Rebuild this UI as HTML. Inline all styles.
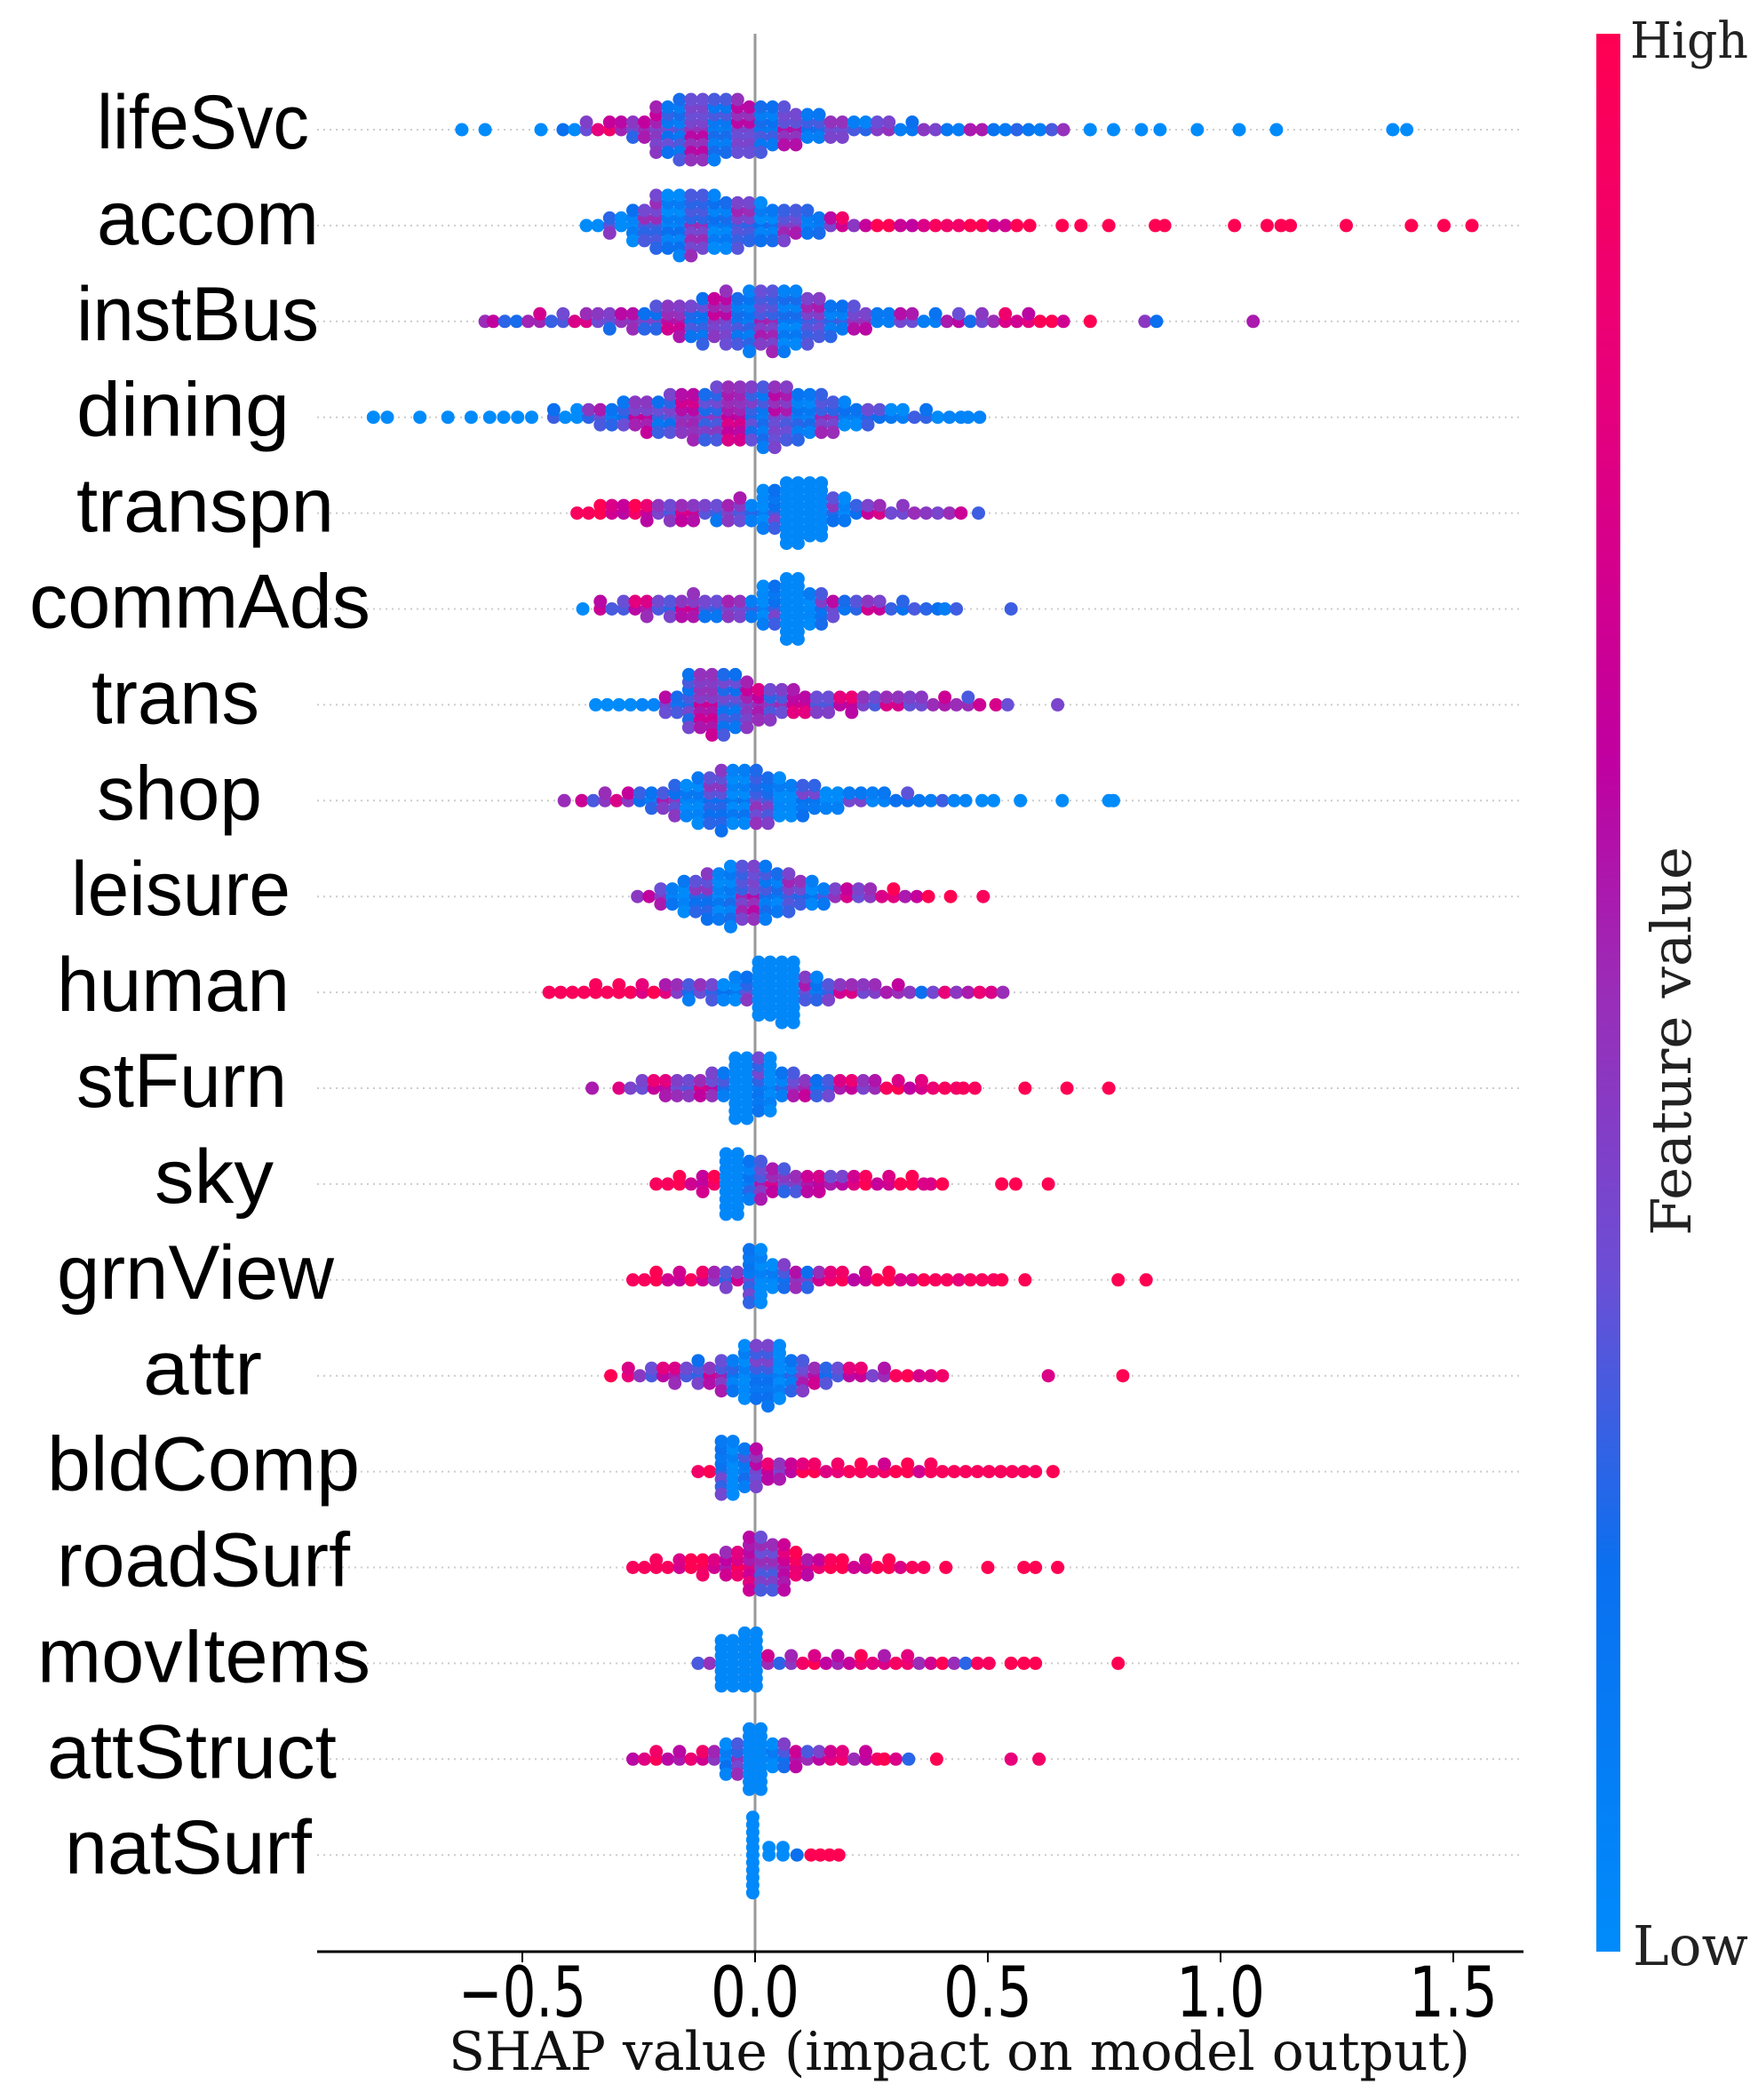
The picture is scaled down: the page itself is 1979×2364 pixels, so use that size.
<!DOCTYPE html>
<html><head><meta charset="utf-8"><style>
html,body{margin:0;padding:0;background:#fff;}
svg{display:block;}
</style></head><body>
<svg id="chart" xmlns="http://www.w3.org/2000/svg" width="1979" height="2364" viewBox="0 0 1979 2364">
<defs>
<linearGradient id="cbar" x1="0" y1="1" x2="0" y2="0">
<stop offset="0" stop-color="#008bfb"/>
<stop offset="0.2" stop-color="#0a70ef"/>
<stop offset="0.35" stop-color="#6a4fd6"/>
<stop offset="0.5" stop-color="#9a2db8"/>
<stop offset="0.62" stop-color="#c000a0"/>
<stop offset="0.82" stop-color="#e8007a"/>
<stop offset="1" stop-color="#ff0052"/>
</linearGradient>
</defs>
<g id="grid"></g>
<line x1="850" y1="38" x2="850" y2="2197" stroke="#999" stroke-width="3"/>
<g id="dots"></g>
<g id="labels"></g>
<g id="xaxis"></g>
<text x="505" y="2330" font-family="'DejaVu Serif','Liberation Serif',serif" font-size="60" textLength="1150" lengthAdjust="spacingAndGlyphs" fill="#111">SHAP value (impact on model output)</text>
<rect x="1797" y="38" width="27" height="2159" fill="url(#cbar)"/>
<text x="1835" y="65" font-family="'DejaVu Serif','Liberation Serif',serif" font-size="56" textLength="133" lengthAdjust="spacingAndGlyphs" fill="#222">High</text>
<text x="1838" y="2212" font-family="'DejaVu Serif','Liberation Serif',serif" font-size="62" textLength="130" lengthAdjust="spacingAndGlyphs" fill="#222">Low</text>
<text transform="translate(1903,1172) rotate(-90)" text-anchor="middle" font-family="'DejaVu Serif','Liberation Serif',serif" font-size="62" textLength="438" lengthAdjust="spacingAndGlyphs" fill="#222">Feature value</text>
</svg>
<script>
const features = ["lifeSvc","accom","instBus","dining","transpn","commAds","trans","shop","leisure","human","stFurn","sky","grnView","attr","bldComp","roadSurf","movItems","attStruct","natSurf"];
const tickValues = [-0.5, 0.0, 0.5, 1.0, 1.5];
const tickLabels = ["\u22120.5","0.0","0.5","1.0","1.5"];

const lifeSvcShap=[-0.63,-0.58,-0.46,-0.40,-0.35,-0.30,-0.25,-0.20,-0.15,-0.10,-0.05,0.00,0.05,0.10,0.15,0.20,0.25,0.30,0.35,0.40,0.45,0.50,0.55,0.60,0.65,0.72,0.77,0.83,0.87,0.95,1.04,1.12,1.37,1.40];
const lifeSvcCount=[1,1,1,2,3,4,6,14,18,18,16,14,12,9,7,5,4,3,3,2,2,2,2,2,2,1,1,1,1,1,1,1,1,1];
const lifeSvcFeat=[0,0,0,0.1,0.5,0.6,0.45,0.35,0.3,0.3,0.3,0.3,0.28,0.28,0.3,0.3,0.25,0.3,0.35,0.3,0.25,0.25,0.2,0.1,0.3,0,0,0,0,0,0,0,0,0];

const accomShap=[-0.35,-0.30,-0.25,-0.20,-0.15,-0.10,-0.05,0.00,0.05,0.10,0.15,0.20,0.25,0.30,0.35,0.40,0.45,0.50,0.55,0.59,0.66,0.70,0.76,0.86,0.88,1.03,1.10,1.13,1.15,1.27,1.41,1.48,1.54];
const accomCount=[2,5,10,16,18,16,14,12,10,8,5,3,2,2,2,2,2,2,2,1,1,1,1,1,1,1,1,1,1,1,1,1,1];
const accomFeat=[0,0.15,0.2,0.2,0.2,0.2,0.22,0.2,0.22,0.25,0.3,0.6,0.8,0.75,0.7,0.9,0.9,0.9,0.9,1,1,1,1,1,1,1,1,1,1,1,1,1,1];

const instBusShap=[-0.58,-0.55,-0.50,-0.45,-0.40,-0.35,-0.30,-0.25,-0.20,-0.15,-0.10,-0.05,0.00,0.05,0.10,0.15,0.20,0.25,0.30,0.35,0.40,0.45,0.50,0.55,0.60,0.65,0.72,0.85,1.07];
const instBusCount=[1,2,2,3,3,4,5,6,8,10,13,15,17,18,15,11,8,5,4,3,3,3,3,3,3,2,1,2,1];
const instBusFeat=[0.5,0.45,0.42,0.42,0.45,0.45,0.42,0.4,0.4,0.38,0.35,0.3,0.25,0.22,0.22,0.25,0.28,0.3,0.28,0.25,0.25,0.3,0.45,0.7,0.8,0.9,1,0.35,0.7];

const diningShap=[-0.82,-0.79,-0.72,-0.66,-0.61,-0.57,-0.54,-0.51,-0.48,-0.42,-0.37,-0.32,-0.27,-0.22,-0.17,-0.12,-0.07,-0.02,0.03,0.08,0.13,0.18,0.23,0.28,0.33,0.38,0.43,0.47];
const diningCount=[1,1,1,1,1,1,1,1,1,3,4,6,8,10,12,14,16,16,18,15,12,9,6,4,3,3,2,2];
const diningFeat=[0,0,0,0,0,0,0,0,0,0.1,0.15,0.25,0.35,0.35,0.4,0.42,0.45,0.42,0.3,0.25,0.22,0.2,0.18,0.15,0.1,0.08,0.05,0.05];

const transpnShap=[-0.37,-0.32,-0.27,-0.22,-0.17,-0.12,-0.07,-0.02,0.03,0.08,0.13,0.18,0.23,0.28,0.33,0.38,0.43,0.48];
const transpnCount=[2,4,4,5,6,5,6,7,12,18,16,8,4,3,3,2,2,1];
const transpnFeat=[0.95,0.9,0.8,0.55,0.45,0.4,0.35,0.25,0.1,0.03,0.03,0.15,0.35,0.45,0.45,0.4,0.5,0.1];

const commAdsShap=[-0.37,-0.32,-0.27,-0.22,-0.17,-0.12,-0.07,-0.02,0.03,0.08,0.13,0.18,0.23,0.28,0.33,0.38,0.42,0.55];
const commAdsCount=[1,3,4,5,6,7,6,6,12,18,10,5,4,3,3,2,2,1];
const commAdsFeat=[0,0.5,0.5,0.45,0.4,0.38,0.35,0.3,0.1,0.03,0.12,0.3,0.4,0.35,0.25,0.2,0.1,0.1];

const transShap=[-0.33,-0.28,-0.23,-0.18,-0.13,-0.08,-0.03,0.02,0.07,0.12,0.17,0.22,0.27,0.32,0.37,0.42,0.47,0.53,0.65];
const transCount=[2,2,2,6,16,18,15,10,8,6,5,5,4,4,3,3,3,2,1];
const transFeat=[0,0,0.05,0.3,0.38,0.38,0.35,0.45,0.5,0.5,0.5,0.55,0.45,0.42,0.45,0.5,0.5,0.55,0.6];

const shopShap=[-0.41,-0.36,-0.31,-0.26,-0.21,-0.16,-0.11,-0.06,-0.01,0.04,0.09,0.14,0.19,0.24,0.29,0.34,0.39,0.44,0.50,0.57,0.66,0.76,0.77];
const shopCount=[1,2,3,4,6,10,14,17,16,13,10,7,5,4,3,3,2,2,2,1,1,1,1];
const shopFeat=[0.5,0.5,0.65,0.35,0.25,0.15,0.15,0.15,0.18,0.12,0.1,0.08,0.08,0.1,0.15,0.15,0.1,0.05,0,0,0,0,0];

const leisureShap=[-0.24,-0.19,-0.14,-0.09,-0.04,0.01,0.06,0.11,0.16,0.21,0.26,0.31,0.36,0.42,0.49];
const leisureCount=[2,6,10,14,17,16,12,8,5,4,3,3,2,1,1];
const leisureFeat=[0.45,0.25,0.15,0.15,0.22,0.3,0.22,0.18,0.3,0.55,0.65,0.7,0.8,0.9,0.95];

const humanShap=[-0.43,-0.38,-0.33,-0.28,-0.23,-0.18,-0.13,-0.08,-0.03,0.02,0.07,0.12,0.17,0.22,0.27,0.32,0.37,0.42,0.47,0.52];
const humanCount=[2,2,3,3,3,4,5,6,8,16,18,8,5,4,3,3,2,2,2,2];
const humanFeat=[0.95,0.95,0.95,0.95,0.9,0.5,0.3,0.2,0.15,0.03,0.03,0.25,0.4,0.45,0.5,0.45,0.2,0.65,0.75,0.65];

const stFurnShap=[-0.35,-0.28,-0.23,-0.18,-0.13,-0.08,-0.03,0.02,0.07,0.12,0.17,0.22,0.27,0.32,0.37,0.42,0.46,0.58,0.67,0.76];
const stFurnCount=[1,2,4,6,6,8,18,16,8,6,5,4,3,3,3,2,2,1,1,1];
const stFurnFeat=[0.55,0.6,0.55,0.5,0.45,0.3,0.03,0.08,0.25,0.35,0.45,0.55,0.65,0.7,0.8,0.9,0.95,1,1,1];

const skyShap=[-0.20,-0.15,-0.10,-0.05,0.00,0.05,0.10,0.15,0.20,0.25,0.30,0.35,0.39,0.53,0.56,0.63];
const skyCount=[2,3,5,18,12,8,6,5,4,3,3,3,2,1,1,1];
const skyFeat=[0.95,0.9,0.8,0.03,0.25,0.45,0.5,0.55,0.6,0.85,0.9,0.9,0.9,1,1,1];

const grnViewShap=[-0.25,-0.20,-0.15,-0.10,-0.05,0.00,0.05,0.10,0.15,0.20,0.25,0.30,0.35,0.40,0.45,0.50,0.53,0.58,0.78,0.84];
const grnViewCount=[2,3,3,4,5,16,8,6,4,3,3,3,2,2,2,2,1,1,1,1];
const grnViewFeat=[0.95,0.9,0.85,0.6,0.4,0.08,0.12,0.4,0.7,0.8,0.9,0.9,0.9,0.95,0.9,0.95,1,1,1,1];

const attrShap=[-0.31,-0.26,-0.21,-0.16,-0.11,-0.06,-0.01,0.04,0.09,0.14,0.19,0.24,0.29,0.34,0.39,0.63,0.79];
const attrCount=[1,3,4,5,7,10,16,17,10,6,4,3,3,2,2,1,1];
const attrFeat=[1,0.65,0.5,0.45,0.4,0.25,0.1,0.1,0.25,0.4,0.5,0.55,0.65,0.8,0.85,0.7,1];

const bldCompShap=[-0.11,-0.06,-0.01,0.04,0.09,0.14,0.19,0.24,0.29,0.34,0.39,0.44,0.49,0.54,0.59,0.64];
const bldCompCount=[2,16,12,6,4,3,3,3,3,3,3,2,2,2,2,1];
const bldCompFeat=[0.9,0.08,0.3,0.55,0.75,0.85,0.9,0.9,0.9,0.9,0.95,0.95,0.95,0.95,0.95,1];

const roadSurfShap=[-0.25,-0.20,-0.15,-0.10,-0.05,0.00,0.05,0.10,0.15,0.20,0.25,0.30,0.35,0.41,0.50,0.59,0.65];
const roadSurfCount=[2,3,4,5,8,16,14,7,4,3,3,3,2,1,1,2,1];
const roadSurfFeat=[0.95,0.95,0.9,0.85,0.7,0.5,0.5,0.75,0.85,0.9,0.9,0.9,0.95,1,1,1,1];

const movItemsShap=[-0.11,-0.06,-0.01,0.04,0.09,0.14,0.19,0.24,0.29,0.34,0.39,0.44,0.49,0.55,0.59,0.78];
const movItemsCount=[2,14,16,3,3,3,3,3,3,3,2,2,2,1,2,1];
const movItemsFeat=[0.3,0.03,0.03,0.4,0.6,0.7,0.6,0.8,0.75,0.7,0.9,0.4,0.95,0.9,1,1];

const attStructShap=[-0.25,-0.20,-0.15,-0.10,-0.05,0.00,0.05,0.10,0.15,0.20,0.25,0.29,0.33,0.39,0.55,0.61];
const attStructCount=[2,3,3,4,10,18,8,5,4,3,3,2,1,1,1,1];
const attStructFeat=[0.6,0.8,0.75,0.6,0.2,0.03,0.12,0.5,0.6,0.7,0.8,0.9,0.4,0.7,0.9,0.85];

const natSurfShap=[-0.005,0.03,0.06,0.09,0.12,0.14,0.16,0.18];
const natSurfCount=[11,2,2,1,1,1,1,1];
const natSurfFeat=[0.02,0,0,0.1,1,1,1,1];

const shapSeries=[lifeSvcShap,accomShap,instBusShap,diningShap,transpnShap,commAdsShap,transShap,shopShap,leisureShap,humanShap,stFurnShap,skyShap,grnViewShap,attrShap,bldCompShap,roadSurfShap,movItemsShap,attStructShap,natSurfShap];
const countSeries=[lifeSvcCount,accomCount,instBusCount,diningCount,transpnCount,commAdsCount,transCount,shopCount,leisureCount,humanCount,stFurnCount,skyCount,grnViewCount,attrCount,bldCompCount,roadSurfCount,movItemsCount,attStructCount,natSurfCount];
const featSeries=[lifeSvcFeat,accomFeat,instBusFeat,diningFeat,transpnFeat,commAdsFeat,transFeat,shopFeat,leisureFeat,humanFeat,stFurnFeat,skyFeat,grnViewFeat,attrFeat,bldCompFeat,roadSurfFeat,movItemsFeat,attStructFeat,natSurfFeat];

// layout (styles, not data)
const labelX=[109,109,86,86,86,33,103,109,80,64,86,174,64,161,53,64,42,53,73];
const labelW=[239,250,273,240,290,384,189,186,247,262,237,134,312,134,352,330,375,326,278];
const subSpread=[6.5,6.5,6.5,6.5,6.5,6.5,6.5,6.5,6.5,6.5,6.5,6.5,6.5,6.5,6.5,6.5,6.5,6.5,0];

const NS="http://www.w3.org/2000/svg";
const X0=357, X1=1715, AXY=2197;
function xScale(v){return 850+524*v;}
function yScale(i){return 146+i*107.9;}
const stops=[[0,[0,139,251]],[0.2,[10,112,239]],[0.35,[106,79,214]],[0.5,[154,45,184]],[0.62,[192,0,160]],[0.82,[232,0,122]],[1,[255,0,82]]];
function cmap(t){t=Math.max(0,Math.min(1,t));for(let i=1;i<stops.length;i++){if(t<=stops[i][0]){const a=stops[i-1],b=stops[i];const f=(t-a[0])/(b[0]-a[0]);const c=a[1].map((v,k)=>Math.round(v+(b[1][k]-v)*f));return `rgb(${c[0]},${c[1]},${c[2]})`;}}return "rgb(255,0,82)";}
const jitter=[0,0.18,-0.2,0.1,-0.15,0.3,-0.08,0.05];

const grid=document.getElementById('grid');
const dots=document.getElementById('dots');
const labels=document.getElementById('labels');
const xaxis=document.getElementById('xaxis');

features.forEach((f,i)=>{
  const y=yScale(i);
  const gl=document.createElementNS(NS,'line');
  
  
  gl.setAttribute('x1',X0);gl.setAttribute('x2',X1);gl.setAttribute('y1',y);gl.setAttribute('y2',y);
  gl.setAttribute('stroke','#ccc');gl.setAttribute('stroke-width','2');gl.setAttribute('stroke-dasharray','2,5');
  grid.appendChild(gl);

  const t=document.createElementNS(NS,'text');
  
  
  t.setAttribute('x',labelX[i]);t.setAttribute('y',y+21);
  t.setAttribute('font-family',"'Liberation Sans','DejaVu Sans',sans-serif");
  t.setAttribute('font-size','86');t.setAttribute('fill','#000');
  t.setAttribute('textLength',labelW[i]);t.setAttribute('lengthAdjust','spacingAndGlyphs');
  t.textContent=f;
  labels.appendChild(t);

  const g=document.createElementNS(NS,'g');
  
  
  const sh=shapSeries[i],cn=countSeries[i],fv=featSeries[i];
  const sp=subSpread[i];
  for(let c=0;c<sh.length;c++){
    const cx=xScale(sh[c]);const n=cn[c];
    const per=(sp>0&&n>1)?2:1;
    for(let k=0;k<n;k++){
      const j=Math.floor(k/per);
      const lvl=j===0?0:(j%2?-Math.ceil(j/2):Math.ceil(j/2));
      const dx=per===2?(k%2?sp:-sp):0;
      const col=fv[c]<0.08||fv[c]>0.92?fv[c]:fv[c]+jitter[(k+c)%jitter.length];
      const d=document.createElementNS(NS,'circle');
      
      
      d.setAttribute('cx',(cx+dx).toFixed(1));
      d.setAttribute('cy',(y+lvl*8.5).toFixed(1));
      d.setAttribute('r','7.5');
      d.setAttribute('fill',cmap(col));
      g.appendChild(d);
    }
  }
  dots.appendChild(g);
});

const ax=document.createElementNS(NS,'line');


ax.setAttribute('x1',X0);ax.setAttribute('x2',X1);ax.setAttribute('y1',AXY);ax.setAttribute('y2',AXY);
ax.setAttribute('stroke','#000');ax.setAttribute('stroke-width','3');
xaxis.appendChild(ax);
tickValues.forEach((v,i)=>{
  const x=xScale(v);
  const tk=document.createElementNS(NS,'line');
  
  
  tk.setAttribute('x1',x);tk.setAttribute('x2',x);tk.setAttribute('y1',AXY);tk.setAttribute('y2',AXY+12);
  tk.setAttribute('stroke','#000');tk.setAttribute('stroke-width','2');
  xaxis.appendChild(tk);
  const tl=document.createElementNS(NS,'text');
  
  
  tl.setAttribute('x',x);tl.setAttribute('y',2270);tl.setAttribute('text-anchor','middle');
  tl.setAttribute('font-family',"'DejaVu Sans','Liberation Sans',sans-serif");
  tl.setAttribute('font-size','78');
  tl.setAttribute('textLength',i===0?144:100);tl.setAttribute('lengthAdjust','spacingAndGlyphs');
  tl.textContent=tickLabels[i];
  xaxis.appendChild(tl);
});
</script>
</body></html>
